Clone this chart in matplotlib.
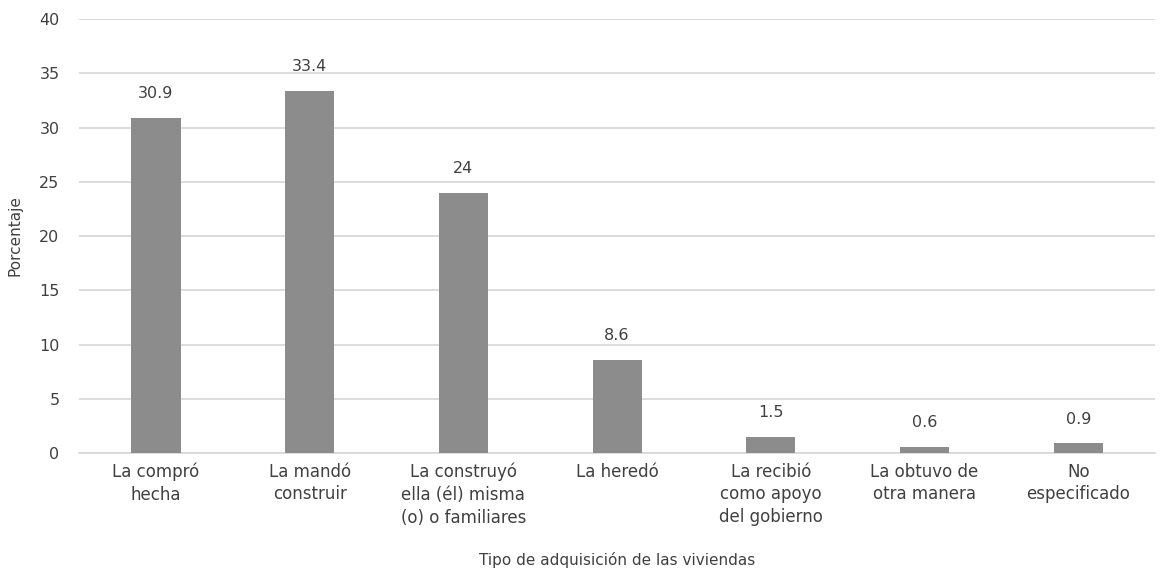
import matplotlib.pyplot as plt

categorias = [
    "La compró\nhecha",
    "La mandó\nconstruir",
    "La construyó\nella (él) misma\n(o) o familiares",
    "La heredó",
    "La recibió\ncomo apoyo\ndel gobierno",
    "La obtuvo de\notra manera",
    "No\nespecificado",
]
porcentajes = [30.9, 33.4, 24, 8.6, 1.5, 0.6, 0.9]
etiquetas = ["30.9", "33.4", "24", "8.6", "1.5", "0.6", "0.9"]

plt.rcParams["font.family"] = ["DejaVu Sans"]
texto = "#404040"

fig = plt.figure(figsize=(11.71, 5.75), dpi=100)
ax = fig.add_axes([0.0675, 0.212, 0.919, 0.755])

x = range(len(categorias))
barras = ax.bar(x, porcentajes, width=0.32, color="#8c8c8c", zorder=3)

for b, et in zip(barras, etiquetas):
    ax.annotate(et, (b.get_x() + b.get_width() / 2, b.get_height()),
                xytext=(0, 12), textcoords="offset points",
                ha="center", va="bottom", fontsize=11.5, color=texto)

ax.set_xlim(-0.5, len(categorias) - 0.5)
ax.set_ylim(0, 40)
ax.set_yticks(range(0, 41, 5))
ax.set_xticks(list(x))
ax.set_xticklabels(categorias, fontsize=12, color=texto, linespacing=1.33)
ax.tick_params(axis="y", labelsize=11.5, labelcolor=texto, length=0, pad=14)
ax.tick_params(axis="x", length=0, pad=7)

ax.grid(axis="y", color="#d9d9d9", linewidth=1.3, zorder=0)
for s in ["top", "right", "left"]:
    ax.spines[s].set_visible(False)
ax.spines["bottom"].set_color("#d9d9d9")
ax.spines["bottom"].set_linewidth(1.3)

ax.set_ylabel("Porcentaje", fontsize=11, color=texto, labelpad=12)
ax.set_xlabel("Tipo de adquisición de las viviendas", fontsize=11, color=texto, labelpad=18)

fig.savefig("out.png", dpi=100)
